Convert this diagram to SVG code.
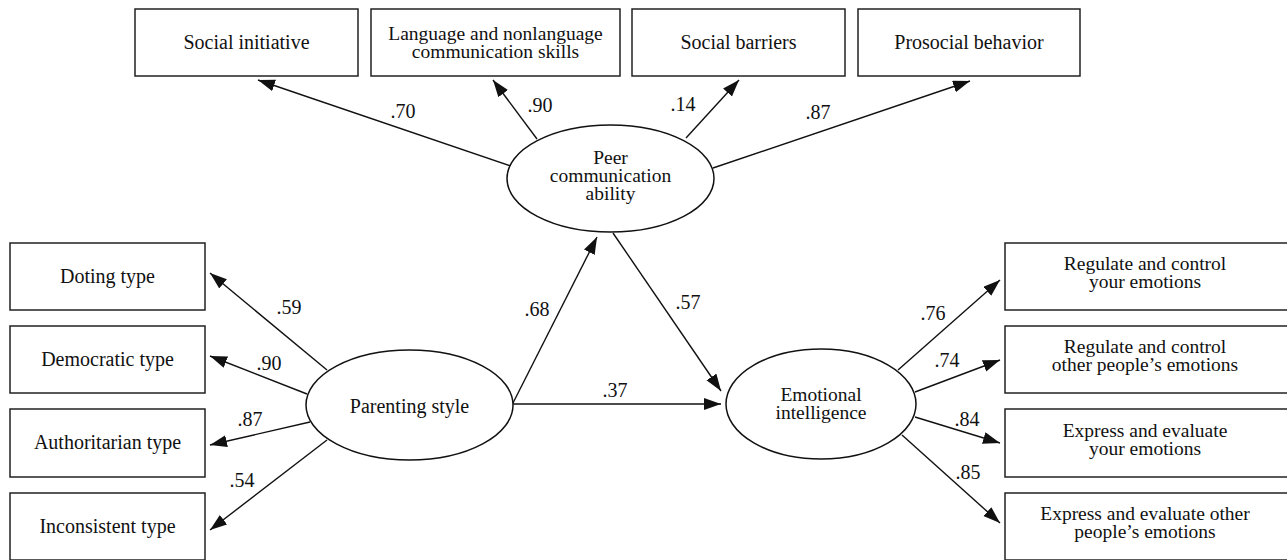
<svg xmlns="http://www.w3.org/2000/svg" width="1287" height="560" viewBox="0 0 1287 560">
<style>
.box{fill:#fff;stroke:#222;stroke-width:1.5}
.ell{fill:#fff;stroke:#111;stroke-width:1.5}
.c{stroke:#111;stroke-width:1.4;fill:none;marker-end:url(#ah)}
</style>
<defs>
<marker id="ah" markerUnits="userSpaceOnUse" markerWidth="18" markerHeight="14" refX="17" refY="6" orient="auto">
<path d="M0,0 L17,6 L0,12 z" fill="#111"/>
</marker>
</defs>
<rect width="1287" height="560" fill="#fff"/>
<g id="connectors">
<line class="c" x1="511" y1="166" x2="258" y2="80"/>
<line class="c" x1="537" y1="139" x2="493" y2="80"/>
<line class="c" x1="686" y1="138" x2="739" y2="80"/>
<line class="c" x1="713" y1="168" x2="970" y2="81"/>
<line class="c" x1="327" y1="370" x2="210" y2="273"/>
<line class="c" x1="307" y1="394" x2="210" y2="356"/>
<line class="c" x1="310" y1="422" x2="210" y2="445"/>
<line class="c" x1="327" y1="440" x2="210" y2="530"/>
<line class="c" x1="513" y1="403" x2="597" y2="237"/>
<line class="c" x1="613" y1="233" x2="721" y2="391"/>
<line class="c" x1="513" y1="404" x2="721" y2="404"/>
<line class="c" x1="898" y1="370" x2="1000" y2="280"/>
<line class="c" x1="915" y1="392" x2="1000" y2="360"/>
<line class="c" x1="915" y1="417" x2="1000" y2="443"/>
<line class="c" x1="902" y1="435" x2="1000" y2="523"/>
<g font-family="Liberation Serif, serif" font-size="20" fill="#111" text-anchor="middle">
<text font-family="Liberation Serif, serif" x="403" y="118">.70</text>
<text font-family="Liberation Serif, serif" x="540" y="112">.90</text>
<text font-family="Liberation Serif, serif" x="683" y="111">.14</text>
<text font-family="Liberation Serif, serif" x="818" y="119">.87</text>
<text font-family="Liberation Serif, serif" x="289" y="314">.59</text>
<text font-family="Liberation Serif, serif" x="269" y="370">.90</text>
<text font-family="Liberation Serif, serif" x="250" y="426">.87</text>
<text font-family="Liberation Serif, serif" x="242" y="487">.54</text>
<text font-family="Liberation Serif, serif" x="537" y="316">.68</text>
<text font-family="Liberation Serif, serif" x="688" y="309">.57</text>
<text font-family="Liberation Serif, serif" x="615" y="397">.37</text>
<text font-family="Liberation Serif, serif" x="933" y="320">.76</text>
<text font-family="Liberation Serif, serif" x="947" y="367">.74</text>
<text font-family="Liberation Serif, serif" x="967" y="426">.84</text>
<text font-family="Liberation Serif, serif" x="968" y="479">.85</text>
</g>
</g>
<g font-family="Liberation Serif, serif" font-size="20" fill="#111" text-anchor="middle">
<g id="social-initiative"><rect class="box" x="135" y="9" width="223" height="67"/><text font-family="Liberation Serif, serif" x="246.5" y="49">Social initiative</text></g>
<g id="language-skills"><rect class="box" x="371" y="9" width="249" height="67"/><text font-family="Liberation Serif, serif" font-size="19.5" x="495.5" y="40">Language and nonlanguage</text><text font-family="Liberation Serif, serif" font-size="19.5" x="495.5" y="58">communication skills</text></g>
<g id="social-barriers"><rect class="box" x="632" y="9" width="213" height="67"/><text font-family="Liberation Serif, serif" x="738.5" y="49">Social barriers</text></g>
<g id="prosocial-behavior"><rect class="box" x="858" y="9" width="222" height="67"/><text font-family="Liberation Serif, serif" x="969" y="49">Prosocial behavior</text></g>
<g id="peer-communication"><ellipse class="ell" cx="610.5" cy="178.5" rx="103.5" ry="53.5"/><text font-family="Liberation Serif, serif" font-size="19.5" x="610.5" y="164">Peer</text><text font-family="Liberation Serif, serif" font-size="19.5" x="610.5" y="182">communication</text><text font-family="Liberation Serif, serif" font-size="19.5" x="610.5" y="200">ability</text></g>
<g id="parenting-style"><ellipse class="ell" cx="409.5" cy="405" rx="103.5" ry="55"/><text font-family="Liberation Serif, serif" x="409.5" y="413">Parenting style</text></g>
<g id="emotional-intelligence"><ellipse class="ell" cx="821" cy="404" rx="95" ry="55"/><text font-family="Liberation Serif, serif" font-size="19.5" x="821" y="401">Emotional</text><text font-family="Liberation Serif, serif" font-size="19.5" x="821" y="419">intelligence</text></g>
<g id="doting-type"><rect class="box" x="10" y="243" width="195" height="67"/><text font-family="Liberation Serif, serif" x="107.5" y="283">Doting type</text></g>
<g id="democratic-type"><rect class="box" x="10" y="326" width="195" height="67"/><text font-family="Liberation Serif, serif" x="107.5" y="366">Democratic type</text></g>
<g id="authoritarian-type"><rect class="box" x="10" y="409" width="195" height="68"/><text font-family="Liberation Serif, serif" x="107.5" y="449">Authoritarian type</text></g>
<g id="inconsistent-type"><rect class="box" x="10" y="493" width="195" height="67"/><text font-family="Liberation Serif, serif" x="107.5" y="533">Inconsistent type</text></g>
<g id="regulate-your"><rect class="box" x="1005" y="243" width="290" height="67"/><text font-family="Liberation Serif, serif" font-size="19.5" x="1145" y="270">Regulate and control</text><text font-family="Liberation Serif, serif" font-size="19.5" x="1145" y="288">your emotions</text></g>
<g id="regulate-others"><rect class="box" x="1005" y="326" width="290" height="67"/><text font-family="Liberation Serif, serif" font-size="19.5" x="1145" y="353">Regulate and control</text><text font-family="Liberation Serif, serif" font-size="19.5" x="1145" y="371">other people’s emotions</text></g>
<g id="express-your"><rect class="box" x="1005" y="409" width="290" height="68"/><text font-family="Liberation Serif, serif" font-size="19.5" x="1145" y="437">Express and evaluate</text><text font-family="Liberation Serif, serif" font-size="19.5" x="1145" y="455">your emotions</text></g>
<g id="express-others"><rect class="box" x="1005" y="493" width="290" height="67"/><text font-family="Liberation Serif, serif" font-size="19.5" x="1145" y="520">Express and evaluate other</text><text font-family="Liberation Serif, serif" font-size="19.5" x="1145" y="538">people’s emotions</text></g>
</g>
</svg>
